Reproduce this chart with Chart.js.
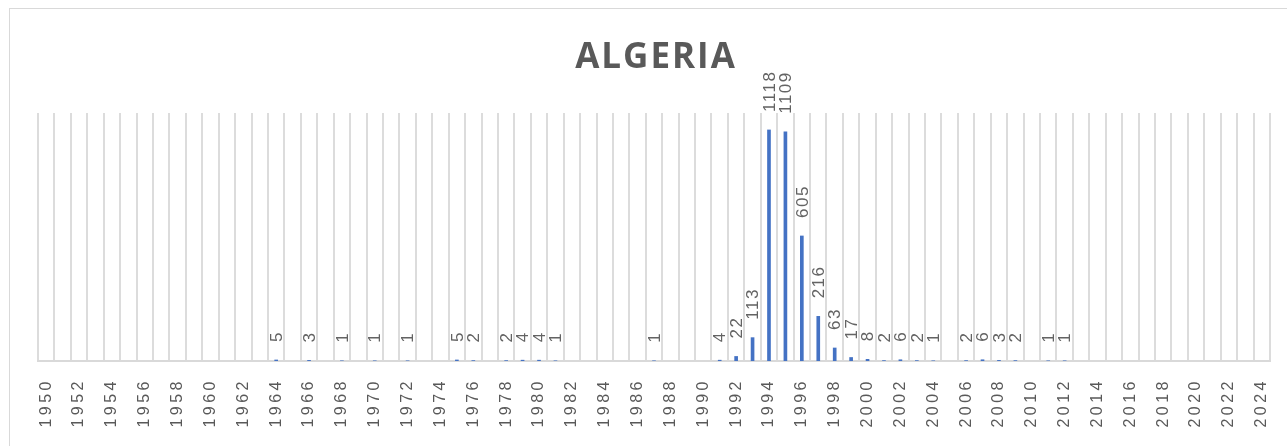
<!DOCTYPE html>
<html>
<head>
<meta charset="utf-8">
<title>ALGERIA</title>
<script src="https://cdn.jsdelivr.net/npm/chart.js@4/dist/chart.umd.min.js"></script>
<style>
  body { margin: 0; background: #fff; }
  #myChartDiv { width: 1287px; height: 446px; }
</style>
</head>
<body>
<div id="myChartDiv"><canvas id="myChart" width="1287" height="446"></canvas></div>
<script>
var chartTitle = "ALGERIA";

var years = [
  "1950","1951","1952","1953","1954","1955","1956","1957","1958","1959",
  "1960","1961","1962","1963","1964","1965","1966","1967","1968","1969",
  "1970","1971","1972","1973","1974","1975","1976","1977","1978","1979",
  "1980","1981","1982","1983","1984","1985","1986","1987","1988","1989",
  "1990","1991","1992","1993","1994","1995","1996","1997","1998","1999",
  "2000","2001","2002","2003","2004","2005","2006","2007","2008","2009",
  "2010","2011","2012","2013","2014","2015","2016","2017","2018","2019",
  "2020","2021","2022","2023","2024"
];

// count per year, null = nothing that year
var counts = [
  null,null,null,null,null,null,null,null,null,null,
  null,null,null,null,5,null,3,null,1,null,
  1,null,1,null,null,5,2,null,2,4,
  4,1,null,null,null,null,null,1,null,null,
  null,4,22,113,1118,1109,605,216,63,17,
  8,2,6,2,1,null,2,6,3,2,
  null,1,1,null,null,null,null,null,null,null,
  null,null,null,null,null
];

// only every second year gets a label
var tickLabels = [
  "1950","1952","1954","1956","1958","1960","1962","1964","1966","1968",
  "1970","1972","1974","1976","1978","1980","1982","1984","1986","1988",
  "1990","1992","1994","1996","1998","2000","2002","2004","2006","2008",
  "2010","2012","2014","2016","2018","2020","2022","2024"
];

var textGrey = '#595959';

// frame + title + letter spacing for tick text
var decoPlugin = {
  id: 'deco',
  beforeDraw: (chart)=>{
    var ctx = chart.ctx;
    ctx.save();
    ctx.strokeStyle = '#d9d9d9';
    ctx.lineWidth = 1;
    ctx.strokeRect(9.5, 8.5, 1400, 600);
    ctx.fillStyle = textGrey;
    ctx.font = 'bold 35px "Open Sans"';
    ctx.letterSpacing = '2px';
    ctx.textAlign = 'center';
    ctx.textBaseline = 'alphabetic';
    ctx.fillText(chartTitle, 656, 68);
    ctx.restore();
    ctx.letterSpacing = '3.5px';
  },
  afterDraw: (chart)=>{
    chart.ctx.letterSpacing = '0px';
  }
};

// value labels, rotated, just above each bar
var valueLabels = {
  id: 'valueLabels',
  afterDatasetsDraw: (chart)=>{
    var ctx = chart.ctx;
    var meta = chart.getDatasetMeta(0);
    ctx.save();
    ctx.fillStyle = '#636363';
    ctx.font = '17px "Liberation Sans"';
    ctx.letterSpacing = '1.5px';
    ctx.textAlign = 'left';
    ctx.textBaseline = 'middle';
    meta.data.forEach((bar, i)=>{
      var v = counts[i];
      if (v === null) return;
      ctx.save();
      ctx.translate(bar.x + 1, bar.y - 18);
      ctx.rotate(-Math.PI / 2);
      ctx.fillText(String(v), 0, 0);
      ctx.restore();
    });
    ctx.restore();
  }
};

var chart = new Chart($id('myChart').getContext('2d'), {
  type: 'bar',
  data: {
    labels: years,
    datasets: [{
      label: chartTitle,
      data: counts,
      backgroundColor: '#4472C4',
      barThickness: 3
    }]
  },
  options: {
    responsive: false,
    maintainAspectRatio: false,
    animation: false,
    layout: { padding: { left: 38, right: 17, top: 113, bottom: 0 } },
    plugins: {
      legend: { display: false },
      title: { display: false },
      tooltip: { enabled: false }
    },
    scales: {
      x: {
        afterFit: (scale)=>{
          scale.height = 85;
          scale.paddingLeft = 0;
          scale.paddingRight = 0;
        },
        grid: { color: '#dcdcdc', lineWidth: 2, drawTicks: false, offset: true },
        border: { color: '#d9d9d9', width: 2 },
        ticks: {
          autoSkip: false,
          minRotation: 90,
          maxRotation: 90,
          padding: 17,
          color: textGrey,
          font: { family: 'Liberation Sans', size: 16 },
          callback: (val, i)=> tickLabels.indexOf(years[i]) >= 0 ? years[i] : ''
        }
      },
      y: {
        display: false,
        min: 0,
        max: 1200
      }
    }
  },
  plugins: [decoPlugin, valueLabels]
});

function $id(id){ return document.getElementById(id); }
</script>
</body>
</html>
